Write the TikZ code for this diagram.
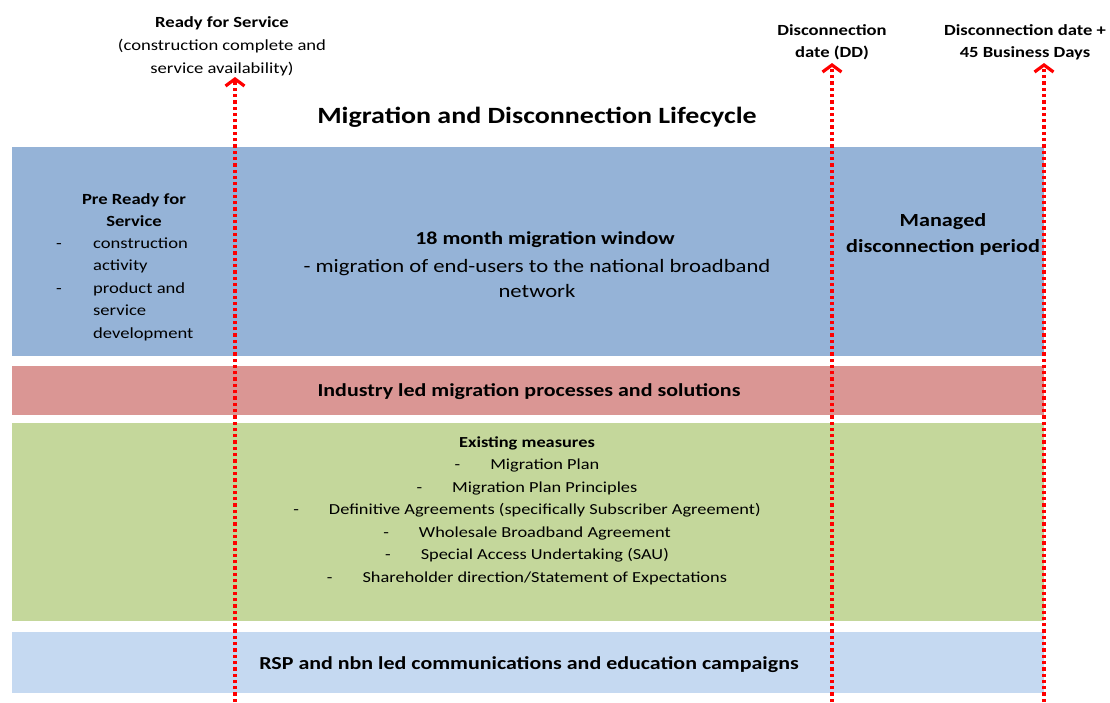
\documentclass[tikz,border=0pt]{standalone}
\usepackage{fontspec}
\setmainfont{Carlito}[FakeStretch=1.2]
\usetikzlibrary{arrows.meta}
\definecolor{bandblue}{HTML}{95B3D7}
\definecolor{bandred}{HTML}{DA9694}
\definecolor{bandgreen}{HTML}{C4D79B}
\definecolor{bandlight}{HTML}{C5D9F1}
\definecolor{dotred}{HTML}{FF0000}
\tikzset{
  band/.style={anchor=north west, inner sep=0pt, minimum width=1032pt},
  lbl/.style={inner sep=0pt, align=center, text=black},
  milestone/.style={draw=dotred, line width=3.2pt, dash pattern=on 3.3pt off 3pt,
    -{Straight Barb[length=7pt,width=19pt]}},
}
\begin{document}
\begin{tikzpicture}[x=1pt,y=-1pt]
\useasboundingbox (0,0) rectangle (1110,702);
% bands
\node[band, fill=bandblue, minimum height=209pt] (mig) at (12,147) {};
\node[band, fill=bandred, minimum height=49pt] (ind) at (12,366) {};
\node[band, fill=bandgreen, minimum height=198pt] (exist) at (12,423) {};
\node[band, fill=bandlight, minimum height=61pt] (comm) at (12,632) {};
% top labels
\node[lbl, font=\fontsize{15.5}{23}\selectfont] (rfs) at (222,46.5)
  {\textbf{Ready for Service}\\(construction complete and\\service availability)};
\node[lbl, font=\fontsize{15.5}{22}\selectfont\bfseries] (dd) at (832,42.5)
  {Disconnection\\date (DD)};
\node[lbl, font=\fontsize{15.5}{22}\selectfont\bfseries] (dd45) at (1025,42.5)
  {Disconnection date +\\45 Business Days};
\node[lbl, font=\fontsize{23.3}{28}\selectfont\bfseries] (title) at (537,117)
  {Migration and Disconnection Lifecycle};
% pre ready
\node[lbl, font=\fontsize{15.5}{22.5}\selectfont\bfseries] (pre) at (134,210)
  {Pre Ready for\\Service};
\node[anchor=north west, inner sep=0pt, font=\fontsize{15.5}{22.5}\selectfont] (prelist) at (56,232.5)
  {\renewcommand\arraystretch{1}\begin{tabular}{@{}p{37pt}@{}l@{}}
   - & construction\\ & activity\\ - & product and\\ & service\\ & development
   \end{tabular}};
% migration window
\node[lbl, font=\fontsize{18.3}{26}\selectfont\bfseries] (win) at (545,239.5)
  {18 month migration window};
\node[lbl, font=\fontsize{18.9}{25}\selectfont] (windesc) at (537,278.5)
  {- migration of end-users to the national broadband\\network};
\node[lbl, font=\fontsize{18.5}{26}\selectfont\bfseries] (managed) at (943,234.5)
  {Managed\\disconnection period};
% industry
\node[lbl, font=\fontsize{18.3}{24}\selectfont\bfseries] (indtxt) at (529,392)
  {Industry led migration processes and solutions};
% existing measures
\node[lbl, font=\fontsize{15.3}{22.5}\selectfont] (meas) at (527,510.5)
  {\textbf{Existing measures}\\
   -\hspace{30pt}Migration Plan\\
   -\hspace{30pt}Migration Plan Principles\\
   -\hspace{30pt}Definitive Agreements (specifically Subscriber Agreement)\\
   -\hspace{30pt}Wholesale Broadband Agreement\\
   -\hspace{30pt}Special Access Undertaking (SAU)\\
   -\hspace{30pt}Shareholder direction/Statement of Expectations};
% comms
\node[lbl, font=\fontsize{18.3}{24}\selectfont\bfseries] (commtxt) at (529,665)
  {RSP and nbn led communications and education campaigns};
% milestones
\coordinate (rfsB) at (235,702);
\coordinate (rfsT) at (235,77);
\coordinate (ddB) at (832,702);
\coordinate (ddT) at (832,63);
\coordinate (dd45B) at (1044,702);
\coordinate (dd45T) at (1044,63);
\draw[milestone] (rfsB) -- (rfsT);
\draw[milestone] (ddB) -- (ddT);
\draw[milestone] (dd45B) -- (dd45T);
\end{tikzpicture}
\end{document}
